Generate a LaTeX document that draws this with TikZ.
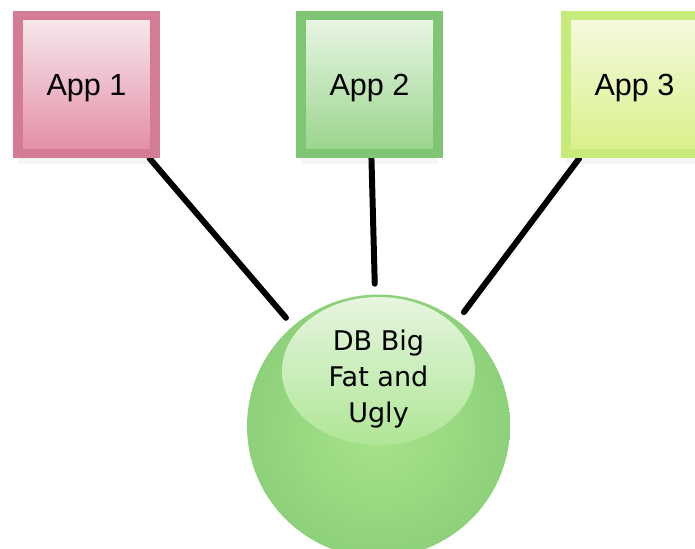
\documentclass[tikz,border=0pt]{standalone}
\usepackage{fontspec}
\setmainfont{Liberation Sans}
\newfontfamily\dbfont{DejaVu Sans}
\usetikzlibrary{shapes.geometric,shadows,backgrounds}
\definecolor{pinkedge}{HTML}{D47C96}
\definecolor{pinktop}{HTML}{F8EAEE}
\definecolor{pinkmid}{HTML}{F0B4C4}
\definecolor{pinkbot}{HTML}{E38DA6}
\definecolor{greenedge}{HTML}{80C573}
\definecolor{greentop}{HTML}{EAF6E6}
\definecolor{greenmid}{HTML}{BFE5B3}
\definecolor{greenbot}{HTML}{98D48A}
\definecolor{limeedge}{HTML}{C6EB7A}
\definecolor{limetop}{HTML}{F5FADF}
\definecolor{limemid}{HTML}{EEF8A6}
\definecolor{limebot}{HTML}{D9F089}
\definecolor{dbedge}{HTML}{8DD17A}
\definecolor{dbglow}{HTML}{A8E48C}
\definecolor{dbshine}{HTML}{E6F5E0}
\begin{document}
\begin{tikzpicture}[x=0.02cm,y=-0.02cm,
  appbox/.style={draw, line width=5.67pt, minimum width=2.74cm, minimum height=2.76cm,
    text depth=0pt, font=\fontsize{17.4}{20}\selectfont,
    drop shadow={opacity=0.08, shadow xshift=0pt, shadow yshift=-6pt}},
  link/.style={line width=3.4pt, line cap=round}]
\useasboundingbox (0,0) rectangle (695,548);
\clip (0,0) rectangle (695,548);
% the three apps
\node[appbox, draw=pinkedge, top color=pinktop, middle color=pinkmid, bottom color=pinkbot] (app1) at (86.5,84.5) {App 1};
\node[appbox, draw=greenedge, top color=greentop, middle color=greenmid, bottom color=greenbot] (app2) at (369.5,84.5) {App 2};
\node[appbox, draw=limeedge, top color=limetop, middle color=limemid, bottom color=limebot] (app3) at (634.5,84.5) {App 3};
% the database ball
\node[circle, minimum size=5.26cm, inner sep=0pt, outer sep=6.2pt, inner color=dbglow, outer color=dbedge] (db) at (378.5,426) {};
\node[ellipse, minimum width=3.86cm, minimum height=2.96cm, inner sep=0pt, top color=dbshine, bottom color=dbglow!92!white] (shine) at (378.5,371) {};
\node[align=center, font=\dbfont\fontsize{15.4}{20.4}\selectfont] (dbtext) at (378.5,379) {DB Big\\Fat and\\Ugly};
\begin{pgfonlayer}{background}
\draw[link] (app1) -- (db);
\draw[link] (app2) -- (db);
\draw[link] (app3) -- (db);
\end{pgfonlayer}
\end{tikzpicture}
\end{document}
